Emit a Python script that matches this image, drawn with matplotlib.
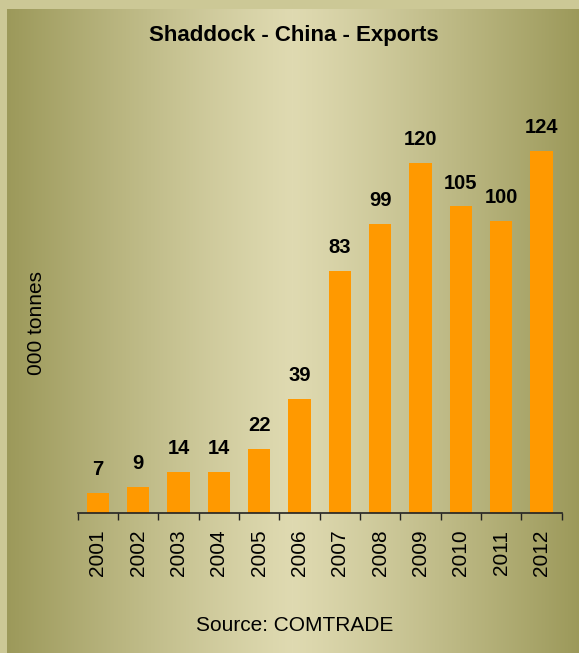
import numpy as np
import matplotlib.pyplot as plt
from matplotlib.patches import Rectangle

plt.rcParams['font.family'] = ['Liberation Sans', 'DejaVu Sans']

years = ['2001', '2002', '2003', '2004', '2005', '2006',
         '2007', '2008', '2009', '2010', '2011', '2012']
exports = [7, 9, 14, 14, 22, 39, 83, 99, 120, 105, 100, 124]

W, H = 579, 653
fig = plt.figure(figsize=(W / 100, H / 100), dpi=100)

# background: horizontal gradient, dark olive at the edges, pale in the middle
bg = fig.add_axes([0, 0, 1, 1])
bg.set_axis_off()
edge = np.array([156, 153, 90]) / 255
mid = np.array([223, 218, 177]) / 255
xs = np.arange(W)
cx = 292
t = np.clip(np.abs(xs - cx) / np.where(xs < cx, cx - 7, W - cx), 0, 1) ** 1.15
row = mid[None, :] * (1 - t[:, None]) + edge[None, :] * t[:, None]
img = np.repeat(row[None, :, :], H, axis=0)
bg.imshow(img, aspect='auto', extent=[0, W, 0, H], origin='upper')
bg.set_xlim(0, W)
bg.set_ylim(0, H)
frame = '#ccc896'
bg.add_patch(Rectangle((0, 0), 7, H, color=frame, lw=0))
bg.add_patch(Rectangle((0, H - 9), W, 9, color=frame, lw=0))

# main chart
left, right, base = 77.7, 561.7, 513
ymax = 140
top = base - ymax * 2.92
ax = fig.add_axes([left / W, 1 - base / H, (right - left) / W, (base - top) / H])
ax.patch.set_alpha(0)

x = np.arange(len(years))
bars = ax.bar(x, exports, width=0.56, color='#ff9900', zorder=2)
for xi, v in zip(x, exports):
    ax.annotate(str(v), (xi, v), xytext=(0, 10), textcoords='offset points',
                ha='center', va='bottom', fontsize=14.5, fontweight='bold')

ax.set_xlim(-0.5, len(years) - 0.5)
ax.set_ylim(0, ymax)
for s in ['top', 'right', 'left']:
    ax.spines[s].set_visible(False)
ax.spines['bottom'].set_color('#222222')
ax.spines['bottom'].set_linewidth(1.2)
ax.set_yticks([])
ax.set_xticks(x)
ax.set_xticklabels(years, rotation=90, fontsize=15)
ax.tick_params(axis='x', which='major', length=0, pad=12)
ax.set_xticks(np.arange(-0.5, len(years)), minor=True)
ax.tick_params(axis='x', which='minor', length=5, width=1, color='#222222')

fig.text(293.7 / W, 1 - 41 / H, 'Shaddock - China - Exports', ha='center',
         va='baseline', fontsize=16, fontweight='bold')
fig.text(294.5 / W, 1 - 630.7 / H, 'Source: COMTRADE', ha='center',
         va='baseline', fontsize=15)
fig.text(37 / W, 1 - 323 / H, '000 tonnes', rotation=90, ha='center',
         va='center', fontsize=15)

fig.savefig('out.png', dpi=100)
